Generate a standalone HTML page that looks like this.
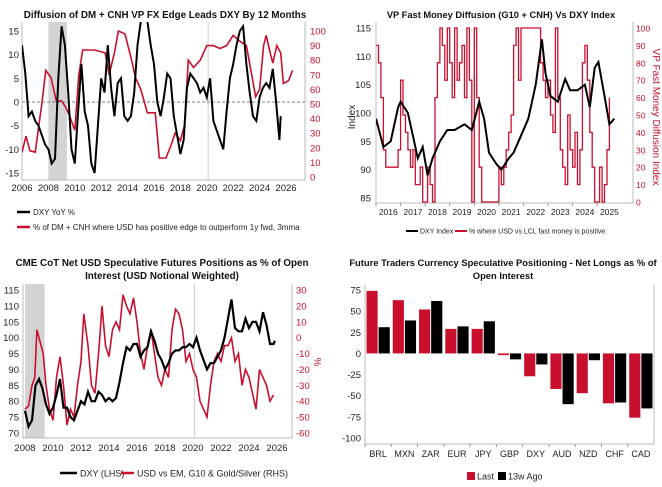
<!DOCTYPE html>
<html><head><meta charset="utf-8">
<style>
body{margin:0;background:#fff;}
svg{display:block;font-family:"Liberation Sans",sans-serif;}
.t{font-weight:bold;font-size:9.8px;fill:#111;text-anchor:middle;}
.tk{font-size:9.5px;fill:#222;}
.tr{font-size:9.5px;fill:#c8102e;}
.lg{font-size:8px;fill:#222;}
</style></head>
<body>
<svg id="s" width="662" height="487" viewBox="0 0 662 487">
<defs>
<clipPath id="c1"><rect x="22" y="22" width="283" height="158"/></clipPath>
<clipPath id="c2"><rect x="376" y="22" width="257" height="181"/></clipPath>
<clipPath id="c3"><rect x="23" y="284" width="269" height="154"/></clipPath>
</defs>
<text class="t" x="165" y="18">Diffusion of DM + CNH VP FX Edge Leads DXY By 12 Months</text>
<text class="t" x="501" y="18" style="font-size:9.3px">VP Fast Money Diffusion (G10 + CNH) Vs DXY Index</text>
<text class="t" x="162" y="266">CME CoT Net USD Speculative Futures Positions as % of Open</text>
<text class="t" x="162" y="279">Interest (USD Notional Weighted)</text>
<text class="t" x="503" y="266" style="font-size:9.4px">Future Traders Currency Speculative Positioning - Net Longs as % of</text>
<text class="t" x="503" y="279" style="font-size:9.4px">Open Interest</text>
<g id="g"></g>
</svg>
<script>
// ---------- DATA ----------
const p1Years=[2006,2006.25,2006.5,2006.75,2007,2007.25,2007.5,2007.75,2008,2008.25,2008.5,2008.75,2009,2009.25,2009.5,2009.75,2010,2010.25,2010.5,2010.75,2011,2011.25,2011.5,2011.75,2012,2012.25,2012.5,2012.75,2013,2013.25,2013.5,2013.75,2014,2014.25,2014.5,2014.75,2015,2015.25,2015.5,2015.75,2016,2016.25,2016.5,2016.75,2017,2017.25,2017.5,2017.75,2018,2018.25,2018.5,2018.75,2019,2019.25,2019.5,2019.75,2020,2020.25,2020.5,2020.75,2021,2021.25,2021.5,2021.75,2022,2022.25,2022.5,2022.75,2023,2023.25,2023.5,2023.75,2024,2024.25,2024.5,2024.75,2025,2025.25,2025.5,2025.6];
const p1Dxy=[12,6,-3,-2,-4,-5,-7,-9,-10,-13,-12,5,16,12,2,-10,-13,-2,8,-2,-5,-13,-15,-5,5,2,12,3,-3,4,5,-3,-4,-3,2,12,17,20,17,12,8,0,-3,1,6,5,-3,-7,-11,-8,3,6,5,4,2,3,1,5,-4,-6,-8,-10,-2,5,8,12,15,16,8,2,-3,-4,1,3,4,3,7,0,-8,-3];
const p1DiffYears=[2006,2006.3,2006.6,2007,2007.5,2007.8,2008.2,2008.6,2009,2009.3,2009.6,2010,2010.3,2010.6,2011.5,2012.3,2012.6,2013,2013.3,2013.8,2014.3,2014.6,2015,2015.5,2016.1,2016.4,2016.9,2017.3,2017.6,2018,2018.3,2018.6,2019,2019.5,2020,2020.5,2021,2021.5,2022,2022.5,2023,2023.4,2023.7,2024,2024.3,2024.5,2024.8,2025,2025.3,2025.6,2025.8,2026.2,2026.5];
const p1Diff=[17,28,18,17,50,73,68,52,52,48,42,32,70,87,87,85,70,85,100,98,80,68,60,44,44,13,13,22,30,25,35,80,75,80,90,90,88,90,97,93,90,70,55,60,90,97,85,78,90,85,64,66,73];
const p1LeftTicks=[15,10,5,0,-5,-10,-15];
const p1RightTicks=[100,90,80,70,60,50,40,30,20,10,0];
const p1XTicks=[2006,2008,2010,2012,2014,2016,2018,2020,2022,2024,2026];

const p2Years=[2016,2016.3,2016.6,2016.9,2017,2017.3,2017.5,2017.7,2017.9,2018.1,2018.3,2018.6,2018.9,2019.2,2019.6,2019.9,2020.2,2020.4,2020.6,2020.9,2021.1,2021.4,2021.6,2021.9,2022.2,2022.5,2022.75,2022.9,2023.1,2023.4,2023.7,2023.9,2024.2,2024.5,2024.7,2024.9,2025.05,2025.3,2025.5,2025.7];
const p2Dxy=[99,94,95,101,102,100,96,92,94,89,92,95,97,97,98,97,102,99,93,91,90,92,93,96,99,105,113,107,103,102,106,104,104,105,101,108,109,103,98,99];
const p2FastStart=2016, p2FastStep=0.1;
const p2Fast=[90,80,60,30,20,20,20,20,20,30,
70,50,40,30,20,30,10,10,20,0,
0,20,10,0,60,80,100,90,70,100,
80,60,100,70,80,90,60,100,70,0,
100,60,20,0,0,0,0,0,0,0,
20,10,20,30,40,50,90,100,70,100,
100,100,100,100,100,100,100,80,70,60,
70,50,40,100,60,30,20,10,50,30,
20,40,10,30,80,90,70,40,20,0,
0,20,0,10,30,60];
const p2LeftTicks=[115,110,105,100,95,90,85];
const p2RightTicks=[100,90,80,70,60,50,40,30,20,10,0];
const p2XLabels=[2016,2017,2018,2019,2020,2021,2022,2023,2024,2025];

const p3Years=[2008,2008.25,2008.5,2008.75,2009,2009.25,2009.5,2009.75,2010,2010.25,2010.5,2010.75,2011,2011.25,2011.5,2011.75,2012,2012.25,2012.5,2012.75,2013,2013.25,2013.5,2013.75,2014,2014.25,2014.5,2014.75,2015,2015.25,2015.5,2015.75,2016,2016.25,2016.5,2016.75,2017,2017.25,2017.5,2017.75,2018,2018.25,2018.5,2018.75,2019,2019.25,2019.5,2019.75,2020,2020.25,2020.5,2020.75,2021,2021.25,2021.5,2021.75,2022,2022.25,2022.5,2022.75,2023,2023.25,2023.5,2023.75,2024,2024.25,2024.5,2024.75,2025,2025.25,2025.5,2025.75,2025.85];
const p3Dxy=[77,72,74,85,87,84,79,76,78,82,87,78,78,75,74,77,80,79,83,80,80,83,82,80,81,80,81,86,92,97,96,98,98,94,96,97,102,99,95,93,90,92,95,96,96,97,97,98,97,100,96,93,90,92,92,94,96,100,106,112,103,102,102,106,103,105,105,102,108,104,98,98,99];
const p3PosYears=[2008,2008.25,2008.5,2008.7,2008.85,2009,2009.3,2009.5,2009.75,2010,2010.25,2010.5,2010.75,2011,2011.25,2011.5,2011.75,2012,2012.2,2012.5,2012.75,2013,2013.3,2013.5,2013.75,2014,2014.25,2014.5,2014.75,2015,2015.25,2015.5,2015.75,2016,2016.25,2016.5,2016.75,2017,2017.25,2017.5,2017.75,2018,2018.25,2018.5,2018.75,2019,2019.25,2019.5,2019.75,2020,2020.25,2020.5,2020.75,2021,2021.25,2021.5,2021.75,2022,2022.25,2022.5,2022.75,2023,2023.25,2023.5,2023.75,2024,2024.25,2024.5,2024.75,2025,2025.25,2025.5,2025.75];
const p3Pos=[-45,-43,-30,-25,5,0,-10,-30,-45,-52,-25,-12,-30,-55,-45,-50,-30,-15,15,-5,-30,-35,-5,20,-5,-12,5,10,5,27,20,15,25,10,-10,-20,-5,5,-10,-25,-30,-20,-25,5,18,15,5,-15,-10,-20,-25,-40,-45,-50,-30,-15,-10,-15,-5,-5,0,-15,-10,-30,-20,-25,-35,-45,-20,-25,-30,-40,-36];
const p3LeftTicks=[115,110,105,100,95,90,85,80,75,70];
const p3RightTicks=[30,20,10,0,-10,-20,-30,-40,-50,-60];
const p3XTicks=[2008,2010,2012,2014,2016,2018,2020,2022,2024,2026];

const p4Cats=["BRL","MXN","ZAR","EUR","JPY","GBP","DXY","AUD","NZD","CHF","CAD"];
const p4Last=[74,63,52,29,29,-2,-27,-42,-47,-59,-76];
const p4Ago=[31,39,62,32,38,-7,-13,-60,-8,-58,-65];
const p4Ticks=[75,50,25,0,-25,-50,-75,-100];

// ---------- HELPERS ----------
const NS="http://www.w3.org/2000/svg";
const G=document.getElementById('g');
function mk(tag,attrs,parent){const e=document.createElementNS(NS,tag);for(const k in attrs)e.setAttribute(k,attrs[k]);(parent||G).appendChild(e);return e;}
function lin(d0,d1,r0,r1){return v=>r0+(v-d0)*(r1-r0)/(d1-d0);}
function pathD(xs,ys,fx,fy,step){let d="";for(let i=0;i<xs.length;i++){const X=fx(xs[i]),Y=fy(ys[i]);if(i===0)d+="M"+X.toFixed(1)+","+Y.toFixed(1);else if(step){d+="H"+X.toFixed(1)+"V"+Y.toFixed(1);}else d+="L"+X.toFixed(1)+","+Y.toFixed(1);}return d;}
const RED="#c8102e";

// ---------- PANEL 1 ----------
{
const x=lin(2006,2026,22,286), yl=lin(-15,15,173,31), yr=lin(0,100,177,31);
let r=mk('rect',{x:x(2008),y:22,width:x(2009.4)-x(2008),height:158,fill:"#d3d3d3"});

let v=mk('line',{x1:x(2020.1),x2:x(2020.1),y1:22,y2:180,stroke:"#ccc","stroke-width":1});

let z=mk('line',{x1:22,x2:305,y1:yl(0),y2:yl(0),stroke:"#555","stroke-dasharray":"3,2","stroke-width":0.8});

let ax=mk('path',{d:"M22,22V180H305V22",fill:"none",stroke:"#bbb"});

p1LeftTicks.forEach(t=>{const e=mk('text',{x:19,y:yl(t)+3.5,class:"tk","text-anchor":"end"});e.textContent=t;
});
p1RightTicks.forEach(t=>{const e=mk('text',{x:310,y:yr(t)+3.5,class:"tr"});e.textContent=t;
});
p1XTicks.forEach(t=>{const e=mk('text',{x:x(t),y:191,class:"tk","text-anchor":"middle"});e.textContent=t;
});
let rl=mk('path',{d:pathD(p1DiffYears,p1Diff,x,yr,false),fill:"none",stroke:RED,"stroke-width":1.6,"clip-path":"url(#c1)"});

let bl=mk('path',{d:pathD(p1Years,p1Dxy,x,yl,false),fill:"none",stroke:"#000","stroke-width":2,"clip-path":"url(#c1)"});

let l1=mk('line',{x1:17,x2:30,y1:212,y2:212,stroke:"#000","stroke-width":2.5});

let t1=mk('text',{x:33,y:215,class:"lg"});t1.textContent="DXY YoY %";

let l2=mk('line',{x1:17,x2:30,y1:227,y2:227,stroke:RED,"stroke-width":2.5});

let t2=mk('text',{x:33,y:230,class:"lg"});t2.textContent="% of DM + CNH where USD has positive edge to outperform 1y fwd, 3mma";

}

// ---------- PANEL 2 ----------
{
const x=lin(2016,2026.5,376,634), yl=lin(85,115,198,28), yr=lin(0,100,202,28);
let ax=mk('path',{d:"M376,22V203H633V22",fill:"none",stroke:"#bbb"});

p2LeftTicks.forEach(t=>{const e=mk('text',{x:371,y:yl(t)+3.5,class:"tk","text-anchor":"end"});e.textContent=t;
});
p2RightTicks.forEach(t=>{const e=mk('text',{x:636,y:yr(t)+3.5,class:"tr",style:"font-size:8.5px"});e.textContent=t;
});
p2XLabels.forEach(t=>{const e=mk('text',{x:x(t+0.5),y:215,class:"tk","text-anchor":"middle",style:"font-size:8.5px"});e.textContent=t;

const m=mk('line',{x1:x(t),x2:x(t),y1:203,y2:206,stroke:"#999"});
});
const fy=p2Fast.map((v,i)=>p2FastStart+i*p2FastStep);
let rl=mk('path',{d:pathD(fy,p2Fast,x,yr,true),fill:"none",stroke:RED,"stroke-width":1.3,"clip-path":"url(#c2)"});

let bl=mk('path',{d:pathD(p2Years,p2Dxy,x,yl,false),fill:"none",stroke:"#000","stroke-width":2,"clip-path":"url(#c2)"});

let yt=mk('text',{x:0,y:0,class:"tk",transform:"translate(355,117) rotate(-90)","text-anchor":"middle",style:"font-size:10px"});yt.textContent="Index";

let rt=mk('text',{x:0,y:0,class:"tr",transform:"translate(653,117) rotate(90)","text-anchor":"middle",style:"font-size:10px"});rt.textContent="VP Fast Money Diffusion Index";

let l1=mk('line',{x1:406,x2:418,y1:231,y2:231,stroke:"#000","stroke-width":2});

let t1=mk('text',{x:420,y:233.5,class:"lg",style:"font-size:7px"});t1.textContent="DXY Index";

let l2=mk('line',{x1:455,x2:467,y1:231,y2:231,stroke:RED,"stroke-width":2});

let t2=mk('text',{x:469,y:233.5,class:"lg",style:"font-size:7px"});t2.textContent="% where USD vs LCL fast money is positive";

}

// ---------- PANEL 3 ----------
{
const x=lin(2008,2026,25,277), yl=lin(70,115,433,290), yr=lin(-60,30,433,290);
let r=mk('rect',{x:x(2008),y:284,width:x(2009.4)-x(2008),height:154,fill:"#d3d3d3"});

let v=mk('line',{x1:x(2020.1),x2:x(2020.1),y1:284,y2:438,stroke:"#ccc"});

let ax=mk('path',{d:"M23,284V438H292V284",fill:"none",stroke:"#bbb"});

p3LeftTicks.forEach(t=>{const e=mk('text',{x:19,y:yl(t)+3.5,class:"tk","text-anchor":"end"});e.textContent=t;
});
p3RightTicks.forEach(t=>{const e=mk('text',{x:296,y:yr(t)+3.5,class:"tr"});e.textContent=t;
});
p3XTicks.forEach(t=>{const e=mk('text',{x:x(t),y:451,class:"tk","text-anchor":"middle"});e.textContent=t;
});
let rl=mk('path',{d:pathD(p3PosYears,p3Pos,x,yr,false),fill:"none",stroke:RED,"stroke-width":1.6,"clip-path":"url(#c3)"});

let bl=mk('path',{d:pathD(p3Years,p3Dxy,x,yl,false),fill:"none",stroke:"#000","stroke-width":2.2,"clip-path":"url(#c3)"});

let pc=mk('text',{x:0,y:0,class:"tr",transform:"translate(314,362) rotate(90)","text-anchor":"middle",style:"font-size:10px"});pc.textContent="%";

let l1=mk('line',{x1:60,x2:77,y1:473,y2:473,stroke:"#000","stroke-width":2.5});

let t1=mk('text',{x:80,y:476.5,class:"lg",style:"font-size:9px"});t1.textContent="DXY (LHS)";

let l2=mk('line',{x1:121,x2:134,y1:473,y2:473,stroke:RED,"stroke-width":2.5});

let t2=mk('text',{x:137,y:476.5,class:"lg",style:"font-size:9px"});t2.textContent="USD vs EM, G10 & Gold/Silver (RHS)";

}

// ---------- PANEL 4 ----------
{
const y=lin(-100,75,438,290), left=365, right=654, bw=(right-left)/p4Cats.length;
let ax=mk('path',{d:"M365,285V444H654V285",fill:"none",stroke:"#bbb"});

p4Ticks.forEach(t=>{const e=mk('text',{x:361,y:y(t)+3.5,class:"tk","text-anchor":"end"});e.textContent=t;
});
p4Cats.forEach((c,i)=>{
 const x0=left+i*bw;
 const a=p4Last[i], b=p4Ago[i];
 const r1=mk('rect',{x:x0+1.5,y:Math.min(y(a),y(0)),width:bw/2-2,height:Math.max(Math.abs(y(a)-y(0)),0.8),fill:RED});
 
 
 const r2=mk('rect',{x:x0+bw/2+0.5,y:Math.min(y(b),y(0)),width:bw/2-2,height:Math.max(Math.abs(y(b)-y(0)),0.8),fill:"#000"});
 
 
 const t=mk('text',{x:x0+bw/2,y:457,class:"tk","text-anchor":"middle",style:"font-size:9px"});t.textContent=c;
 
 
 const m=mk('line',{x1:x0,x2:x0,y1:444,y2:447,stroke:"#999"});
 
 
});
let s1=mk('rect',{x:467,y:472,width:8,height:8,fill:RED});

let t1=mk('text',{x:477,y:479.5,class:"lg",style:"font-size:9px"});t1.textContent="Last";

let s2=mk('rect',{x:498,y:472,width:8,height:8,fill:"#000"});

let t2=mk('text',{x:508,y:479.5,class:"lg",style:"font-size:9px"});t2.textContent="13w Ago";

}
</script>
</body></html>
